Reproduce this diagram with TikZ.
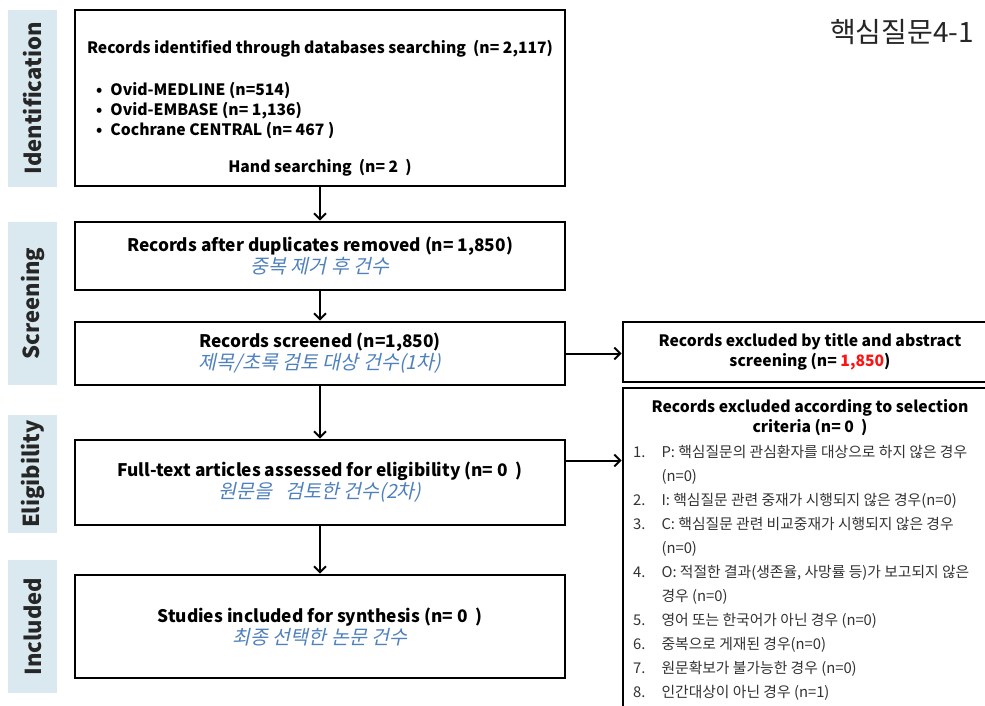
\documentclass[tikz,border=0pt]{standalone}
\usepackage{fontspec}
\setmainfont{Noto Sans CJK KR}
\newfontfamily\kit[FakeSlant=0.22]{Noto Sans CJK KR}
\usetikzlibrary{arrows.meta,positioning}
\definecolor{bandblue}{RGB}{218,233,240}
\definecolor{korblue}{RGB}{79,129,189}
\definecolor{numred}{RGB}{250,20,20}
\newcommand{\kor}[1]{{\kit\mdseries\fontsize{19.5}{22}\selectfont\color{korblue}#1}}

\begin{document}
\begin{tikzpicture}[x=1pt,y=-1pt,
  box/.style={draw,line width=2.6pt,minimum width=490pt,inner sep=0pt,align=center,font=\bfseries\fontsize{17.3}{22}\selectfont},
  sidebox/.style={draw,line width=2.6pt,minimum width=374pt,inner sep=0pt,align=center,font=\bfseries\fontsize{15.7}{20}\selectfont},
  txt/.style={inner sep=0pt,align=center,font=\bfseries\fontsize{15.7}{20}\selectfont},
  band/.style={fill=bandblue,rotate=90,minimum height=49pt,inner sep=0pt,text=black!85,font=\bfseries\fontsize{22}{22}\selectfont},
  flow/.style={line width=2pt,-{Straight Barb[length=6pt,width=12pt,line width=2pt]}}
]
\path[use as bounding box] (0,0) rectangle (985,706);
\clip (0,0) rectangle (985,706);
\fill[white] (0,0) rectangle (985,706);
% stage bands
\foreach \nm/\lbl/\yc/\h in {bid/Identification/98.5/177,bsc/Screening/303.5/163,bel/Eligibility/474/118,bin/Included/626.5/133}{
  \node[band,minimum width=\h pt] (\nm) at (32.5,\yc) {\lbl};
}
% main column
\node[box,minimum height=176pt] (ident) at (320,98) {};
\node[txt] (identt) at (320,49) {Records identified through databases searching~~(n= 2,117)};
\node[txt,anchor=north west] (dblist) at (96,81)
  {\begin{tabular}{@{}l@{\hspace{8pt}}l@{}}
   • & Ovid-MEDLINE (n=514)\\
   • & Ovid-EMBASE (n= 1,136)\\
   • & Cochrane CENTRAL (n= 467 )
   \end{tabular}};
\node[txt] (hand) at (320,168) {Hand searching~~(n= 2~~)};
\node[box,minimum height=68pt] (dedup) at (320,256) {Records after duplicates removed (n= 1,850)\\\kor{중복 제거 후 건수}};
\node[box,minimum height=63pt] (screen) at (320,353.5) {Records screened (n=1,850)\\\kor{제목/초록 검토 대상 건수(1차)}};
\node[box,minimum height=85pt] (fulltext) at (320,482.5) {Full-text articles assessed for eligibility (n= 0~~)\\\kor{원문을~~~검토한 건수(2차)}};
\node[box,minimum height=103pt] (incl) at (320,626.5) {Studies included for synthesis (n= 0~~)\\\kor{최종 선택한 논문 건수}};
% exclusions
\node[sidebox,minimum height=60pt] (exscreen) at (810,352) {Records excluded by title and abstract\\screening (n= {\color{numred}1,850})};
\node[sidebox,minimum height=332pt] (excrit) at (810,554) {};
\node[txt] (critt) at (810,418) {Records excluded according to selection\\criteria (n= 0~~)};
\node[inner sep=0pt,anchor=north west,text=black!80,font=\fontsize{14.8}{24}\selectfont] (critl) at (633,440)
  {\begin{tabular}{@{}l@{\hspace{16pt}}l@{}}
   1. & P: 핵심질문의 관심환자를 대상으로 하지 않은 경우\\
      & (n=0)\\
   2. & I: 핵심질문 관련 중재가 시행되지 않은 경우(n=0)\\
   3. & C: 핵심질문 관련 비교중재가 시행되지 않은 경우\\
      & (n=0)\\
   4. & O: 적절한 결과(생존율, 사망률 등)가 보고되지 않은\\
      & 경우 (n=0)\\
   5. & 영어 또는 한국어가 아닌 경우 (n=0)\\
   6. & 중복으로 게재된 경우(n=0)\\
   7. & 원문확보가 불가능한 경우 (n=0)\\
   8. & 인간대상이 아닌 경우 (n=1)
   \end{tabular}};
\node[inner sep=0pt,text=black!85,font=\fontsize{28}{28}\selectfont] (qtitle) at (902,32) {핵심질문4-1};
% connectors
\foreach \a/\b in {ident/dedup,dedup/screen,screen/fulltext,fulltext/incl}{
  \draw[flow] (\a) -- (\b);
}
\draw[flow] (screen.east) -- (screen.east -| exscreen.west);
\draw[flow] ([yshift=22pt]fulltext.east) -- ([yshift=22pt]fulltext.east -| excrit.west);
\end{tikzpicture}
\end{document}
